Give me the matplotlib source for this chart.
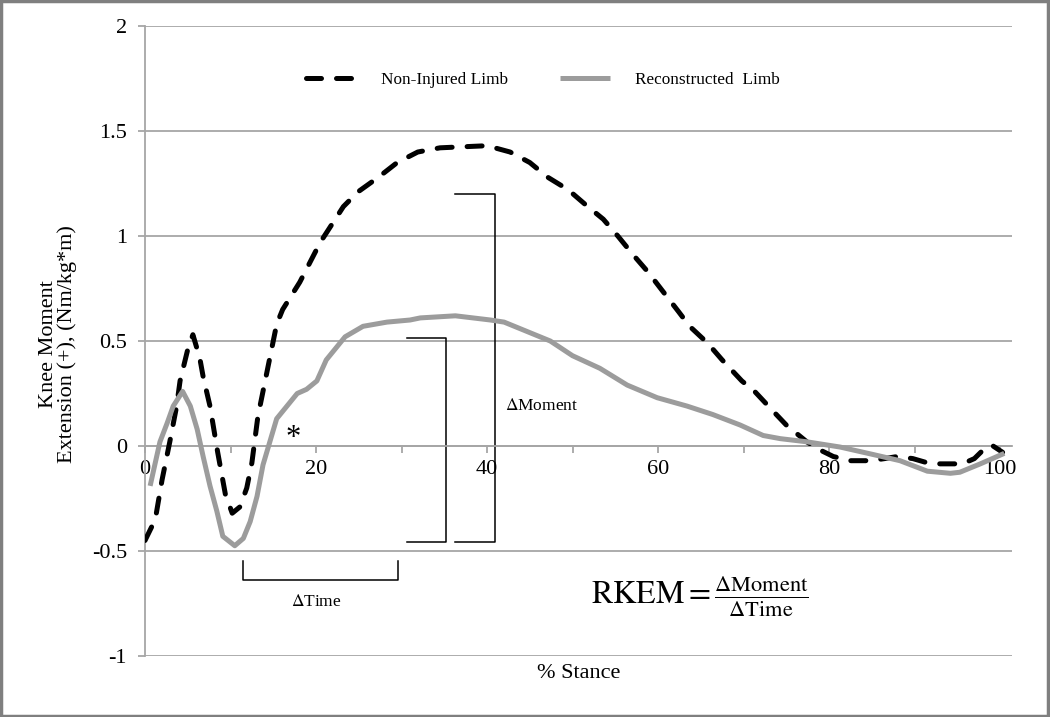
import matplotlib.pyplot as plt
from matplotlib.patches import Rectangle

plt.rcParams['font.family'] = ['Liberation Serif', 'DejaVu Serif']
plt.rcParams['mathtext.fontset'] = 'stix'

# % stance vs knee moment
non_x = [0, 1.2, 2.0, 2.9, 3.7, 4.1, 5.0, 5.6, 6.4, 6.8, 7.6, 8.5, 9.4, 10.2,
         11.1, 11.9, 12.5, 13.2, 14.3, 15.4, 16.1, 18.1, 20.5, 23.2, 24.9, 27.3,
         29.5, 31.9, 34.5, 37.2, 40.0, 42.7, 45.0, 47.1, 49.5, 51.5, 53.6, 55.3,
         57.1, 58.8, 60.5, 62.4, 63.7, 65.8, 67.5, 69.8, 71.3, 73.6, 75.0, 77.4,
         79.0, 80.5, 82.5, 84.8, 86.5, 88.0, 89.8, 91.5, 93.0, 95.6, 97.0, 98.0,
         99.0, 100.3]
non_y = [-0.45, -0.35, -0.16, 0.02, 0.19, 0.31, 0.46, 0.53, 0.42, 0.33, 0.19,
         -0.03, -0.23, -0.32, -0.29, -0.20, -0.08, 0.14, 0.36, 0.58, 0.65, 0.78,
         0.97, 1.14, 1.21, 1.28, 1.35, 1.40, 1.42, 1.425, 1.43, 1.40, 1.35, 1.28,
         1.22, 1.15, 1.08, 1.00, 0.91, 0.83, 0.74, 0.64, 0.57, 0.49, 0.41, 0.31,
         0.26, 0.16, 0.10, 0.02, -0.02, -0.05, -0.07, -0.07, -0.06, -0.05, -0.06,
         -0.08, -0.085, -0.085, -0.06, -0.02, 0.005, -0.03]

rec_x = [0.6, 1.2, 1.75, 2.6, 3.3, 4.4, 5.3, 6.1, 6.8, 7.6, 8.4, 9.1, 10.5,
         11.5, 12.3, 13.1, 13.8, 14.6, 15.4, 16.6, 17.8, 18.9, 20.1, 21.2, 23.4,
         25.5, 28.3, 31.0, 32.2, 36.3, 40.4, 42.0, 45.0, 47.4, 50.0, 53.2, 56.4,
         59.9, 63.4, 66.4, 69.6, 72.3, 74.3, 77.4, 81.3, 85.1, 88.3, 91.5, 94.2,
         95.3, 97.7, 100.5]
rec_y = [-0.19, -0.08, 0.02, 0.11, 0.19, 0.26, 0.19, 0.08, -0.05, -0.19, -0.31,
         -0.43, -0.475, -0.44, -0.36, -0.24, -0.09, 0.02, 0.13, 0.19, 0.25, 0.27,
         0.31, 0.41, 0.52, 0.57, 0.59, 0.60, 0.61, 0.62, 0.60, 0.59, 0.54, 0.50,
         0.43, 0.37, 0.29, 0.23, 0.19, 0.15, 0.10, 0.05, 0.035, 0.02, -0.005,
         -0.04, -0.07, -0.12, -0.13, -0.125, -0.085, -0.035]

y_ticks = [-1, -0.5, 0, 0.5, 1, 1.5, 2]
y_labels = ['-1', '-0.5', '0', '0.5', '1', '1.5', '2']
x_labels = ['0', '', '20', '', '40', '', '60', '', '80', '', '100']

fig = plt.figure(figsize=(10.5, 7.17), dpi=100)
ax = fig.add_axes([0.1381, 0.0851, 0.8257, 0.8786])

ax.plot(non_x, non_y, color='black', lw=3.6, linestyle=(0, (3, 3)),
        dash_capstyle='round', label='Non-Injured Limb', zorder=3)
ax.plot(rec_x, rec_y, color='#9c9c9c', lw=3.6, solid_capstyle='butt',
        label='Reconstructed  Limb', zorder=3)

ax.set_xlim(0, 101.4)
ax.set_ylim(-1, 2)
ax.set_yticks(y_ticks)
ax.set_yticklabels(y_labels)
ax.set_xticks(range(0, 101, 10))
ax.set_xticklabels(x_labels)
ax.grid(axis='y', color='#a6a6a6', lw=1.3)
ax.set_axisbelow(True)
for s in ['top', 'right']:
    ax.spines[s].set_visible(False)
ax.spines['left'].set_color('#a6a6a6')
ax.spines['left'].set_linewidth(1.3)
ax.spines['bottom'].set_position(('data', 0))
ax.spines['bottom'].set_color('#a6a6a6')
ax.spines['bottom'].set_linewidth(1.3)
ax.tick_params(axis='both', colors='#a6a6a6', labelcolor='black',
               labelsize=16, length=5, width=1.3)
ax.tick_params(axis='y', pad=8)
ax.tick_params(axis='x', pad=5)

ax.set_ylabel('Knee Moment\nExtension (+), (Nm/kg*m)', fontsize=16,
              linespacing=0.95)
ax.yaxis.set_label_coords(-0.078, 0.495)
ax.set_xlabel('% Stance', fontsize=16)
ax.xaxis.set_label_coords(0.5, -0.012)

ax.legend(loc='center', bbox_to_anchor=(0.459, 0.914), ncol=2,
          frameon=False, fontsize=12.4, handlelength=2.9, columnspacing=3.0,
          handletextpad=1.45)

# annotations: delta brackets, asterisk and formula
k = dict(color='black', lw=1.1, clip_on=False)
ax.plot([30.6, 35.2, 35.2, 30.6], [0.513, 0.513, -0.456, -0.456], **k)
ax.plot([36.3, 40.9, 40.9, 36.3], [1.20, 1.20, -0.456, -0.456], **k)
ax.plot([11.5, 11.5, 29.6, 29.6], [-0.55, -0.64, -0.64, -0.55], **k)
ax.text(42.1, 0.19, r'$\Delta$Moment', fontsize=12.5, va='center', ha='left')
ax.text(20.0, -0.745, r'$\Delta$Time', fontsize=12.5, va='center', ha='center')
ax.text(17.3, 0.035, '*', fontsize=22, ha='center', va='center')
ax.text(52.2, -0.715,
        r'$\mathrm{RKEM} = \frac{\Delta\mathrm{Moment}}{\Delta\mathrm{Time}}$',
        fontsize=23, ha='left', va='center')

fig.patches.append(Rectangle((0.001, 0.001), 0.997, 0.997,
                             transform=fig.transFigure, fill=False,
                             edgecolor='#7f7f7f', lw=2.5))

fig.savefig('out.png', dpi=100)
